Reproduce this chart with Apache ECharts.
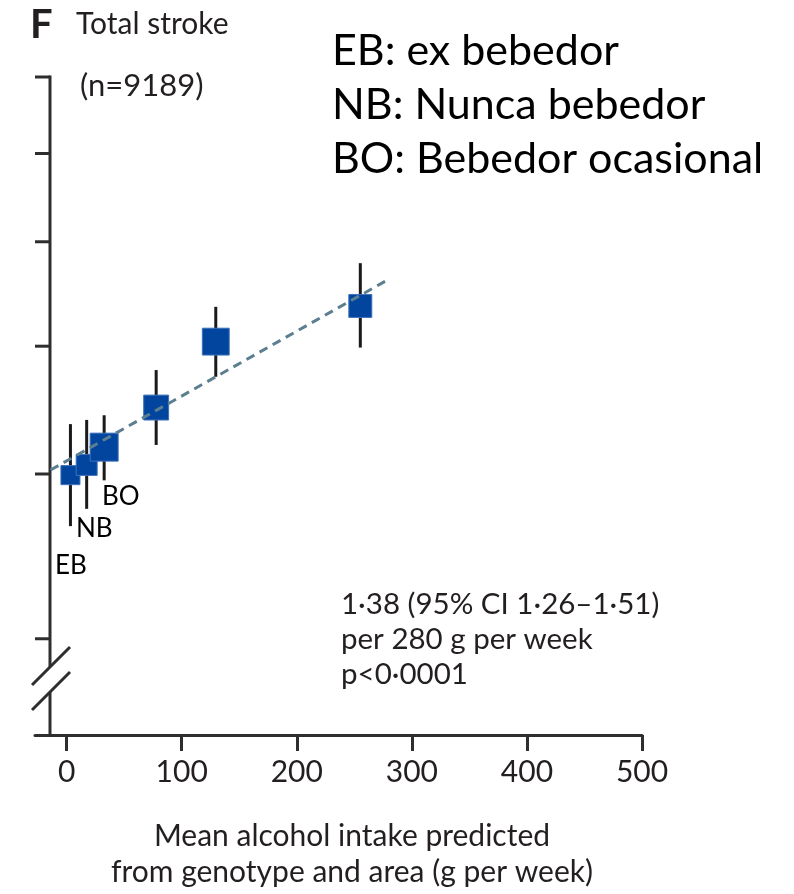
<!DOCTYPE html>
<html><head><meta charset="utf-8">
<script src="https://cdn.jsdelivr.net/npm/echarts@6/dist/echarts.min.js"></script>
<style>html,body{margin:0;padding:0;background:#fff}#c{width:794px;height:894px}</style>
</head><body><div id="c"></div>
<script>
// ---- data ----
const groupLabels = ['EB', 'NB', 'BO', '', '', ''];
const intake = [3.3, 17.4, 32.6, 77.8, 129.6, 255.2];          // g per week
const oddsRatio = [0.998, 1.016, 1.048, 1.123, 1.260, 1.341];
const ciLow = [0.913, 0.941, 0.989, 1.052, 1.185, 1.247];
const ciHigh = [1.091, 1.099, 1.108, 1.199, 1.339, 1.445];
const weight = [0.68, 0.75, 1.0, 0.89, 0.96, 0.82];               // relative box size
const trendX = [-14, 280];
const trendY = [1.007, 1.405];
const xTicks = [0, 100, 200, 300, 400, 500];
const yTicks = [0.75, 1, 1.25, 1.5, 1.75, 2];
const legendLines = ['EB: ex bebedor', 'NB: Nunca bebedor', 'BO: Bebedor ocasional'];
const statLines = ['1·38 (95% CI 1·26–1·51)', 'per 280 g per week', 'p<0·0001'];
const xTitle = ['Mean alcohol intake predicted', 'from genotype and area (g per week)'];

const ink = '#231f20';
const axisCol = '#2e2e2e';
const F = 'Lato, "Open Sans", sans-serif';

const chart = echarts.init(document.getElementById('c'), null, {renderer: 'canvas'});

const lblPos = [[55, 566], [76, 529], [102, 497]];

const graphics = [
  {type: 'text', left: 30, top: 5, style: {text: 'F', font: 'bold 40px ' + F, fill: ink}},
  {type: 'text', left: 76, top: 9, style: {text: 'Total stroke', font: '30px ' + F, fill: ink}},
  {type: 'text', left: 80, top: 70, style: {text: '(n=9189)', font: '31px ' + F, fill: ink}}
];
legendLines.forEach((t, i) => {
  graphics.push({type: 'text', x: 332, y: 51 + i * 54, style: {text: t, font: '43px ' + F, fill: '#000', verticalAlign: 'middle'}});
});
statLines.forEach((t, i) => {
  graphics.push({type: 'text', x: 341, y: 604 + i * 35, style: {text: t, font: '29.5px ' + F, fill: ink, verticalAlign: 'middle'}});
});
xTitle.forEach((t, i) => {
  graphics.push({type: 'text', x: 352, y: 836 + i * 36, style: {text: t, font: '30px ' + F, fill: ink, align: 'center', verticalAlign: 'middle'}});
});
groupLabels.forEach((t, i) => {
  if (!t) return;
  graphics.push({type: 'text', x: lblPos[i][0], y: lblPos[i][1], style: {text: t, font: '26px ' + F, fill: '#000', verticalAlign: 'middle'}});
});

const option = {
  animation: false,
  grid: {left: 35, right: 152, top: 77, bottom: 159, containLabel: false},
  xAxis: {
    type: 'value', min: -27.5, max: 500,
    axisLine: {lineStyle: {color: axisCol, width: 3}},
    axisTick: {customValues: xTicks, length: 16, lineStyle: {color: axisCol, width: 3}},
    axisLabel: {customValues: xTicks, fontSize: 30, fontFamily: F, color: ink, margin: 22},
    splitLine: {show: false}
  },
  yAxis: {
    type: 'log', min: 0.634, max: 2,
    axisLine: {show: false}, axisTick: {show: false}, axisLabel: {show: false}, splitLine: {show: false}
  },
  graphic: graphics,
  series: [
    {
      type: 'custom', silent: true, clip: false, z: 1,
      data: [[0, 1]],
      renderItem(params, api) {
        const cs = params.coordSys;
        const ax = cs.x + 15;
        const top = cs.y, bot = cs.y + cs.height;
        const ls = {stroke: axisCol, lineWidth: 3};
        const children = [
          {type: 'line', shape: {x1: ax, y1: top - 1.5, x2: ax, y2: bot - 68}, style: ls},
          {type: 'line', shape: {x1: ax, y1: bot - 43, x2: ax, y2: bot}, style: ls},
          {type: 'line', shape: {x1: ax - 18, y1: bot - 50, x2: ax + 20, y2: bot - 88}, style: ls},
          {type: 'line', shape: {x1: ax - 18, y1: bot - 25, x2: ax + 20, y2: bot - 63}, style: ls}
        ];
        yTicks.forEach(v => {
          const p = api.coord([0, v]);
          children.push({type: 'line', shape: {x1: ax - 15, y1: p[1], x2: ax, y2: p[1]}, style: ls});
        });
        return {type: 'group', children};
      }
    },
    {
      type: 'custom', silent: true, z: 2,
      data: intake.map((x, i) => [x, ciLow[i], ciHigh[i]]),
      encode: {x: 0, y: [1, 2]},
      renderItem(params, api) {
        const a = api.coord([api.value(0), api.value(1)]);
        const b = api.coord([api.value(0), api.value(2)]);
        return {type: 'line', shape: {x1: a[0], y1: a[1], x2: b[0], y2: b[1]}, style: {stroke: '#1a1a1a', lineWidth: 3}};
      }
    },
    {
      type: 'scatter', z: 3, silent: true,
      data: intake.map((x, i) => [x, oddsRatio[i], weight[i]]),
      symbol: 'rect',
      symbolSize: v => v[2] * 28,
      itemStyle: {color: '#02459f', opacity: 1, borderColor: '#3f72b8', borderWidth: 1}
    },
    {
      type: 'line', z: 5, silent: true, symbol: 'none',
      data: trendX.map((x, i) => [x, trendY[i]]),
      lineStyle: {color: '#5b7f90', width: 3, type: [9, 6]}
    }
  ]
};
chart.setOption(option);
</script>
</body></html>
